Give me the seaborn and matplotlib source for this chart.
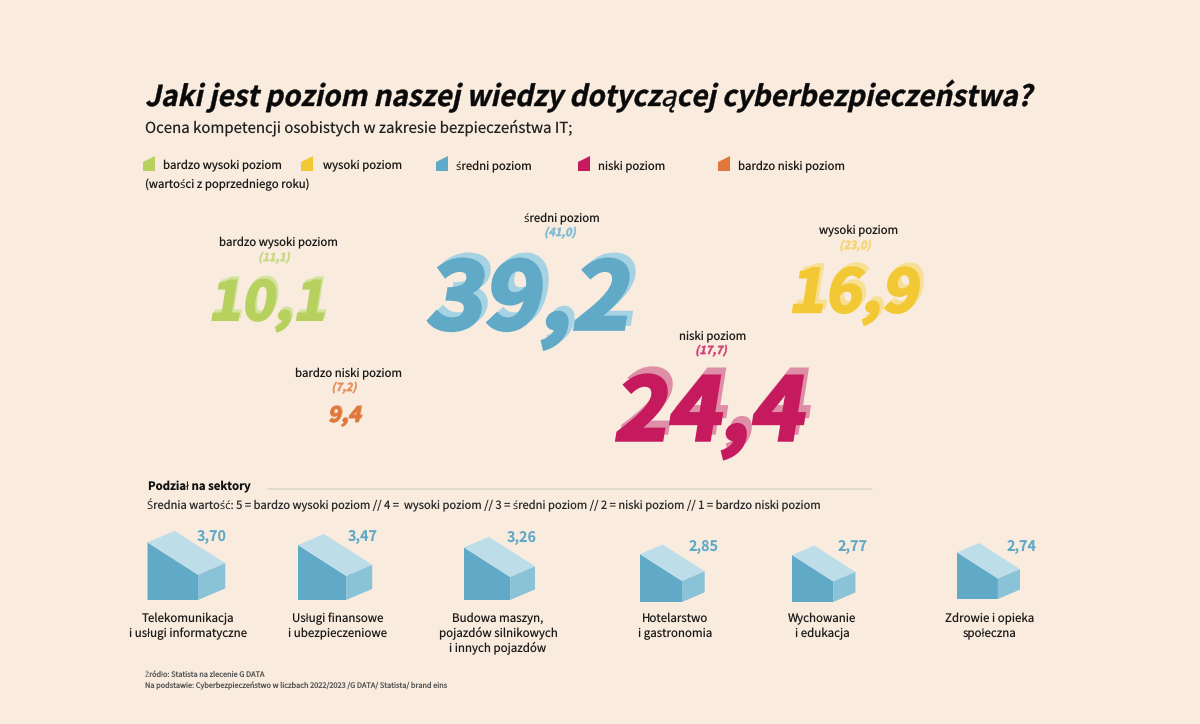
import numpy as np
import pandas as pd
import matplotlib
matplotlib.use("Agg")
import matplotlib.pyplot as plt
import seaborn as sns
from matplotlib.patheffects import AbstractPathEffect
from matplotlib.transforms import Affine2D

# ---- dane ----
levels = ["bardzo wysoki poziom", "wysoki poziom", "średni poziom", "niski poziom", "bardzo niski poziom"]
values = ["10,1", "16,9", "39,2", "24,4", "9,4"]
previous = ["(11,1)", "(23,0)", "(41,0)", "(17,7)", "(7,2)"]

sector_names = [
    "Telekomunikacja\ni usługi informatyczne",
    "Usługi finansowe\ni ubezpieczeniowe",
    "Budowa maszyn,\npojazdów silnikowych\ni innych pojazdów",
    "Hotelarstwo\ni gastronomia",
    "Wychowanie\ni edukacja",
    "Zdrowie i opieka\nspołeczna",
]
sector_values = [3.70, 3.47, 3.26, 2.85, 2.77, 2.74]

title = "Jaki jest poziom naszej wiedzy dotyczącej cyberbezpieczeństwa?"
subtitle = "Ocena kompetencji osobistych w zakresie bezpieczeństwa IT;"
legend_note = "(wartości z poprzedniego roku)"
sector_title = "Podział na sektory"
sector_note = "Średnia wartość: 5 = bardzo wysoki poziom // 4 =  wysoki poziom // 3 = średni poziom // 2 = niski poziom // 1 = bardzo niski poziom"
source_1 = "Źródło: Statista na zlecenie G DATA"
source_2 = "Na podstawie: Cyberbezpieczeństwo w liczbach 2022/2023 /G DATA/ Statista/ brand eins"

# ---- kolory ----
BG = "#F9ECDF"
INK = "#1C1A18"
colors = ["#B7D15F", "#F2C935", "#60A9C7", "#C51B5E", "#E0783B"]
shadows = ["#D3E3A0", "#F7DF96", "#A6D3E3", "#DE8EA6", "#EBA67E"]
prev_colors = ["#C5D97F", "#F5D56A", "#7DBAD3", "#CF3F73", "#E58D5A"]
BLOCK_TOP, BLOCK_SIDE = "#BDDDE9", "#8AC2D8"

# ---- układ (piksele) ----
legend_swatch_x = [149, 307, 442, 584, 724]
legend_text_x = [163, 323, 456, 598, 738]
value_x = [208, 788, 425, 613, 328]
value_base = [320, 312, 329, 440, 422]
value_pt = [38.5, 42.5, 66.5, 62, 15]
shadow_dx = [2, 4, 6, 5, 1]
shadow_dy = [-3, -4, -5, -7, -1]
label_x = [278, 859, 562, 713, 348]
label_y = [243, 231, 218, 336, 373]
prev_x = [274, 855, 560, 711, 344]
block_left = [147.5, 298, 464, 640, 792, 957]
block_base = [600, 600, 600, 602, 602, 599]
block_value_x = [212, 363, 522, 704, 853, 1022]
block_value_y = [537, 537, 538, 547, 547, 547]
sector_x = [188, 338, 498, 675, 822, 990]


class Slant(AbstractPathEffect):
    # pochyla tekst wokół linii bazowej (fonty CJK nie mają kursywy)
    def __init__(self, angle=12, stroke=0.0, stretch=1.0):
        super().__init__()
        self.angle = angle
        self.stroke = stroke
        self.stretch = stretch

    def draw_path(self, renderer, gc, tpath, affine, rgbFace=None):
        m = affine.get_matrix()
        x0, y0 = m[0, 2], m[1, 2]
        tr = affine + (Affine2D().translate(-x0, -y0).scale(self.stretch, 1)
                       .skew_deg(self.angle, 0).translate(x0, y0))
        gc0 = renderer.new_gc()
        gc0.copy_properties(gc)
        if self.stroke:
            gc0.set_linewidth(self.stroke)
            gc0.set_foreground(rgbFace)
            gc0.set_joinstyle("miter")
        renderer.draw_path(gc0, tpath, tr, rgbFace)
        gc0.restore()


sns.set_theme(style="white", rc={"figure.facecolor": BG, "axes.facecolor": BG, "savefig.facecolor": BG})
plt.rcParams["font.family"] = ["Noto Sans CJK JP", "Noto Sans", "DejaVu Sans"]
plt.rcParams["text.hinting"] = "no_hinting"
plt.rcParams["text.hinting_factor"] = 1

fig = plt.figure(figsize=(12, 7.24), dpi=100)
ax = fig.add_axes([0, 0, 1, 1])

# ---- legenda: znaczniki przez seaborn ----
swatch = np.array([(-0.8, -1), (-0.8, 0.2), (0.8, 1), (0.8, -1), (-0.8, -1)])
legend_df = pd.DataFrame({"poziom": levels, "x": legend_swatch_x, "y": [163.5] * 5})
sns.scatterplot(data=legend_df, x="x", y="y", hue="poziom", palette=colors, marker=swatch,
                s=117, linewidth=0, legend=False, ax=ax)

ax.set_xlim(0, 1200)
ax.set_ylim(724, 0)
ax.set_axis_off()


def txt(x, y, s, pt, color=INK, weight="normal", ha="left", va="center", fx=None):
    return ax.text(x, y, s, fontsize=pt, color=color, fontweight=weight, ha=ha, va=va,
                   path_effects=fx)


# ---- nagłówek ----
txt(145, 106, title, 20.6, color="#0A0A0A", weight="bold", va="baseline", fx=[Slant(12, 0.3, 0.97)])
txt(145, 128, subtitle, 10.8, color="#222222")

for name, x in zip(levels, legend_text_x):
    txt(x, 166.5, name, 8.2)
txt(145, 184.5, legend_note, 8.2)

# ---- główne wartości ----
for i in range(5):
    fx = [Slant(9, value_pt[i] * 0.04, 1.05)]
    txt(value_x[i] + shadow_dx[i], value_base[i] + shadow_dy[i], values[i], value_pt[i],
        color=shadows[i], weight="bold", va="baseline", fx=fx)
    txt(value_x[i], value_base[i], values[i], value_pt[i],
        color=colors[i], weight="bold", va="baseline", fx=fx)
    txt(label_x[i], label_y[i], levels[i], 8.2, ha="center")
    txt(prev_x[i], label_y[i] + 14.5, previous[i], 8.0, color=prev_colors[i],
        weight="bold", ha="center", fx=[Slant(12, 0.35)])

# ---- sektory ----
txt(148, 486.5, sector_title, 8.2, weight="bold", color="#111111")
ax.plot([268, 872], [488.5, 488.5], color="#E0D8CC", lw=1.2)
txt(147, 505, sector_note, 8.06, color="#2A2A2A")

for i, v in enumerate(sector_values):
    k = 0.27 + 0.2 * v  # rozmiar bryły rośnie z wartością
    w, dx, dy, h_left, h_right = 50 * k, 27 * k, 11.5 * k, 57 * k, 25 * k
    x0, y0 = block_left[i], block_base[i]
    ax.fill([x0, x0 + w, x0 + w, x0], [y0, y0, y0 - h_right, y0 - h_left], color=colors[2], lw=0)
    ax.fill([x0, x0 + dx, x0 + w + dx, x0 + w],
            [y0 - h_left, y0 - h_left - dy, y0 - h_right - dy, y0 - h_right], color=BLOCK_TOP, lw=0)
    ax.fill([x0 + w, x0 + w + dx, x0 + w + dx, x0 + w],
            [y0, y0 - dy, y0 - h_right - dy, y0 - h_right], color=BLOCK_SIDE, lw=0)
    label = f"{v:.2f}".replace(".", ",")
    txt(block_value_x[i], block_value_y[i], label, 10.3, color=colors[2], weight="bold", ha="center")
    for j, line in enumerate(sector_names[i].split("\n")):
        txt(sector_x[i], 618.5 + j * 15, line, 8.3, ha="center")

# ---- źródło ----
txt(145, 675, source_1, 5.3, color="#555555")
txt(145, 686, source_2, 5.3, color="#555555")

fig.savefig("out.png", dpi=100, facecolor=BG)
